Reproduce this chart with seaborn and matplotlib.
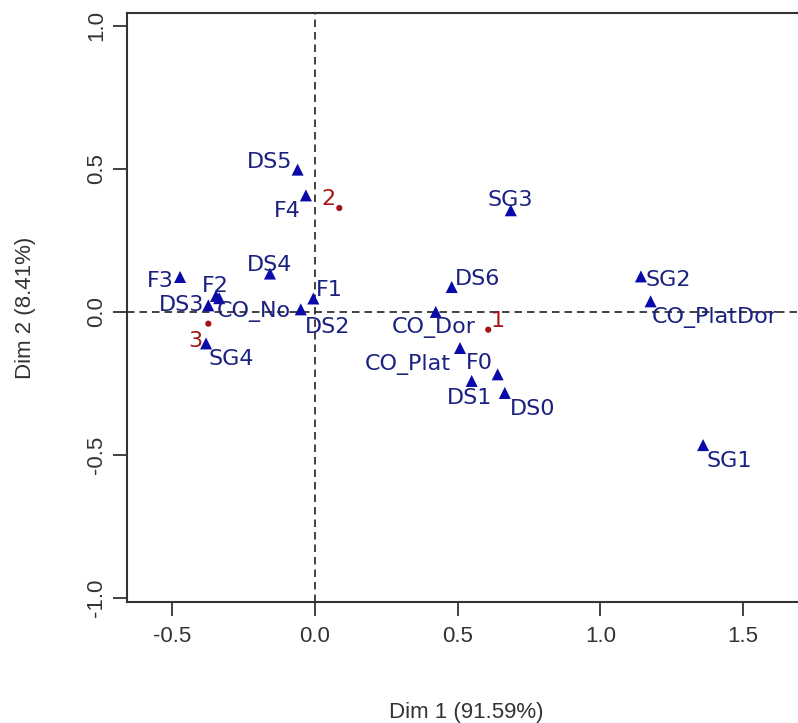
import matplotlib
matplotlib.use("Agg")
import matplotlib.pyplot as plt
import seaborn as sns
import pandas as pd

# column points (blue triangles)
col_names = ["DS5", "F4", "DS4", "F3", "F2", "DS3", "CO_No", "DS2", "F1", "SG4",
             "SG3", "DS6", "CO_Dor", "CO_Plat", "F0", "DS1", "DS0",
             "SG2", "CO_PlatDor", "SG1"]
col_dim1 = [-0.061, -0.032, -0.158, -0.473, -0.347, -0.374, -0.336, -0.050, -0.006, -0.382,
            0.686, 0.479, 0.423, 0.508, 0.640, 0.549, 0.665,
            1.142, 1.176, 1.360]
col_dim2 = [0.497, 0.407, 0.134, 0.122, 0.056, 0.023, 0.048, 0.009, 0.047, -0.110,
            0.355, 0.087, 0.000, -0.126, -0.218, -0.241, -0.283,
            0.124, 0.037, -0.465]

# row points (red dots)
row_names = ["1", "2", "3"]
row_dim1 = [0.607, 0.085, -0.374]
row_dim2 = [-0.062, 0.363, -0.041]

# label placement (offset pixels, alignment)
col_lab_pos = [(-5, 8, "right"), (-5, -16, "right"), (0, 9, "center"), (-6, -4, "right"),
               (-1, 10, "center"), (-4, 0, "right"), (-2, -13, "left"), (4, -18, "left"),
               (3, 8, "left"), (2, -16, "left"),
               (-1, 10, "center"), (3, 8, "left"), (-2, -16, "center"), (-9, -16, "right"),
               (-5, 11, "right"), (-2, -17, "center"), (5, -16, "left"),
               (5, -4, "left"), (1, -16, "left"), (3, -16, "left")]
row_lab_pos = [(2, 9, "left"), (-4, 9, "right"), (-6, -17, "right")]

df = pd.DataFrame({
    "dim1": col_dim1 + row_dim1,
    "dim2": col_dim2 + row_dim2,
    "kind": ["col"] * len(col_names) + ["row"] * len(row_names),
})

blue_mk = "#0a0aa8"
blue_tx = "#1b2180"
red = "#a51515"

fig = plt.figure(figsize=(7.98, 7.23), dpi=100)
ax = fig.add_axes([0.1588, 0.167, 0.851, 0.815])

sns.scatterplot(data=df, x="dim1", y="dim2", hue="kind", style="kind",
                markers={"col": "^", "row": "o"},
                palette={"col": blue_mk, "row": red},
                size="kind", sizes={"col": 75, "row": 20},
                linewidth=0, legend=False, ax=ax, zorder=3)

ax.axhline(0, color="#222222", lw=1.2, ls=(0, (4.5, 3)), zorder=1)
ax.axvline(0, color="#222222", lw=1.2, ls=(0, (4.5, 3)), zorder=1)

for name, x, y, (dx, dy, ha) in zip(col_names, col_dim1, col_dim2, col_lab_pos):
    ax.annotate(name, (x, y), xytext=(dx, dy), textcoords="offset pixels",
                ha=ha, va="center", color=blue_tx, fontsize=16,
                family="DejaVu Sans", zorder=4)
for name, x, y, (dx, dy, ha) in zip(row_names, row_dim1, row_dim2, row_lab_pos):
    ax.annotate(name, (x, y), xytext=(dx, dy), textcoords="offset pixels",
                ha=ha, va="center", color=red, fontsize=16,
                family="DejaVu Sans", zorder=4)

ax.set_xlim(-0.66, 1.72)
ax.set_ylim(-1.014, 1.044)
ax.set_xticks([-0.5, 0.0, 0.5, 1.0, 1.5])
ax.set_yticks([-1.0, -0.5, 0.0, 0.5, 1.0])
ax.set_xticklabels(["-0.5", "0.0", "0.5", "1.0", "1.5"])
ax.set_yticklabels(["-1.0", "-0.5", "0.0", "0.5", "1.0"], rotation=90, va="center")

tick_font = ["Liberation Sans", "DejaVu Sans"]
for lab in ax.get_xticklabels() + ax.get_yticklabels():
    lab.set_family(tick_font)
    lab.set_fontsize(16)
    lab.set_color("#333333")
ax.tick_params(axis="x", direction="out", length=10, width=1.3, color="#333333", pad=7)
ax.tick_params(axis="y", direction="out", length=10, width=1.3, color="#333333", pad=4)

ax.set_xlabel("Dim 1 (91.59%)", fontsize=16, color="#333333", family=tick_font, labelpad=40)
ax.set_ylabel("Dim 2 (8.41%)", fontsize=16, color="#333333", family=tick_font, labelpad=36)

for side in ["left", "bottom", "top"]:
    ax.spines[side].set_linewidth(1.5)
    ax.spines[side].set_color("#333333")
ax.spines["right"].set_visible(False)

fig.savefig("out.png", dpi=100)
